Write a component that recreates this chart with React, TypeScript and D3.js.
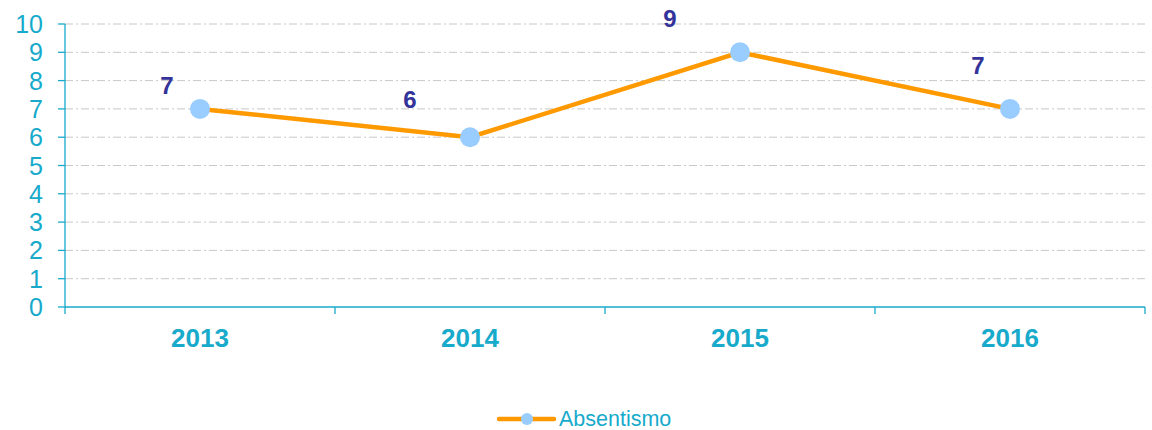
import React from "react";
import * as d3 from "d3";

const categories = ["2013", "2014", "2015", "2016"];
const values = [7, 6, 9, 7];
const seriesName = "Absentismo";
const yTicks = [0, 1, 2, 3, 4, 5, 6, 7, 8, 9, 10];
// label offsets relative to point (dx to label center, dy to baseline)
const labelDx = [-33, -60, -70, -32];
const labelDy = [-15, -29, -25, -35];

const W = 1152;
const H = 430;
const left = 65;
const right = 1145;
const top = 24;
const bottom = 307;

const CYAN = "#17aacb";
const ORANGE = "#ff9900";
const MARK = "#99ccff";
const LABEL = "#333399";
const FONT = "'Liberation Sans', Arial, sans-serif";

export default function App() {
  const x = d3.scaleBand<string>().domain(categories).range([left, right]);
  const y = d3.scaleLinear().domain([0, 10]).range([bottom, top]);
  const cx = (c: string) => (x(c) as number) + x.bandwidth() / 2;
  const line = d3
    .line<number>()
    .x((_, i) => cx(categories[i]))
    .y((d) => y(d));
  const boundaries = [...categories.map((c) => x(c) as number), right];

  return (
    <svg
      width={W}
      height={H}
      style={{ position: "absolute", left: 0, top: 0, fontFamily: FONT }}
    >
      {yTicks
        .filter((t) => t > 0)
        .map((t) => (
          <line
            key={"g" + t}
            x1={left}
            x2={right}
            y1={y(t)}
            y2={y(t)}
            stroke="#c8c8c8"
            strokeWidth={1}
            strokeDasharray="8,3,2,3"
          />
        ))}
      <line x1={left} x2={left} y1={top} y2={bottom} stroke={CYAN} strokeWidth={1.3} />
      {yTicks.map((t) => (
        <g key={"y" + t}>
          <line x1={left - 7} x2={left} y1={y(t)} y2={y(t)} stroke={CYAN} strokeWidth={1.3} />
          <text
            x={43}
            y={y(t)}
            dy="0.36em"
            textAnchor="end"
            fontSize={25}
            fill={CYAN}
          >
            {t}
          </text>
        </g>
      ))}
      <line x1={left} x2={right} y1={bottom} y2={bottom} stroke={CYAN} strokeWidth={1.3} />
      {boundaries.map((b, i) => (
        <line key={"b" + i} x1={b} x2={b} y1={bottom} y2={bottom + 7} stroke={CYAN} strokeWidth={1.3} />
      ))}
      {categories.map((c) => (
        <text
          key={"x" + c}
          x={cx(c)}
          y={347}
          textAnchor="middle"
          fontSize={26}
          fontWeight="bold"
          fill={CYAN}
        >
          {c}
        </text>
      ))}
      <path d={line(values) as string} fill="none" stroke={ORANGE} strokeWidth={4.5} />
      {values.map((v, i) => (
        <circle key={"m" + i} cx={cx(categories[i])} cy={y(v)} r={10} fill={MARK} />
      ))}
      {values.map((v, i) => (
        <text
          key={"l" + i}
          x={cx(categories[i]) + labelDx[i]}
          y={y(v) + labelDy[i]}
          textAnchor="middle"
          fontSize={24}
          fontWeight="bold"
          fill={LABEL}
        >
          {v}
        </text>
      ))}
      <g>
        <line x1={499} x2={554} y1={419} y2={419} stroke={ORANGE} strokeWidth={4.5} strokeLinecap="round" />
        <circle cx={527} cy={419} r={6} fill={MARK} />
        <text x={559} y={426} fontSize={21.5} fill={CYAN}>
          {seriesName}
        </text>
      </g>
    </svg>
  );
}
